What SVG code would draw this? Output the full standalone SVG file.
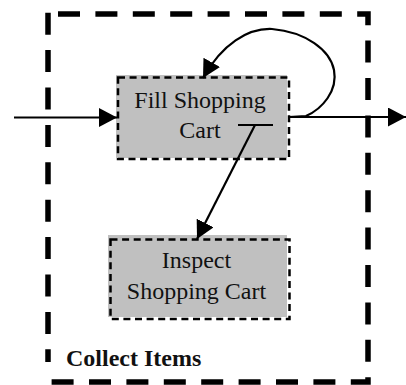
<svg xmlns="http://www.w3.org/2000/svg" width="406" height="385" viewBox="0 0 406 385">
  <style>
    .frame { fill: none; stroke: #000; stroke-width: 5.5; stroke-dasharray: 22 15.4; stroke-linejoin: miter; }
    .box { fill: #c0c0c0; }
    .border { fill: none; stroke: #000; stroke-width: 2.5; stroke-dasharray: 7 4.6; }
    .label { font-family: "Liberation Serif", "Times New Roman", serif; font-size: 24px; fill: #111; text-anchor: middle; }
    .title { font-family: "Liberation Serif", "Times New Roman", serif; font-size: 24px; font-weight: bold; fill: #111; }
    .flow { fill: none; stroke: #000; stroke-width: 2.2; }
  </style>
  <defs>
    <marker id="arrow" markerUnits="userSpaceOnUse" markerWidth="20" markerHeight="20" refX="18" refY="9.5" orient="auto" viewBox="0 0 20 20">
      <path d="M0,0 L18,9.5 L0,19 z" fill="#000"/>
    </marker>
  </defs>

  <!-- Collect Items activity frame -->
  <g id="collect-items">
    <path class="frame" d="M48,14 L368,14 L368,382 L48,382" stroke-dashoffset="27.4"/>
    <path class="frame" d="M48,12.7 L48,362"/>
    <text class="title" x="66" y="366">Collect Items</text>
  </g>

  <!-- Fill Shopping Cart -->
  <g id="fill-shopping-cart">
    <rect class="box" x="116" y="75" width="171" height="83"/>
    <rect class="border" x="118" y="77.5" width="171" height="81.5"/>
    <text class="label" x="200" y="108">Fill Shopping</text>
    <text class="label" x="200" y="138">Cart</text>
  </g>

  <!-- Inspect Shopping Cart -->
  <g id="inspect-shopping-cart">
    <rect class="box" x="108" y="235" width="179" height="82"/>
    <rect class="border" x="110.5" y="239.5" width="179" height="79.5"/>
    <text class="label" x="196.5" y="267.5">Inspect</text>
    <text class="label" x="196.5" y="299">Shopping Cart</text>
  </g>

  <!-- Connectors -->
  <g id="connectors">
    <path class="flow" d="M14,117.5 L117,117.5" marker-end="url(#arrow)"/>
    <path class="flow" d="M289,117 L406,117" marker-end="url(#arrow)"/>
    <path class="flow" d="M289,117 L306,116 C322,109 338,91 334,70 C330,50 306,32 272,29 C248,28 222,44 203,78" marker-end="url(#arrow)"/>
    <path class="flow" d="M238,125 L273,125"/>
    <path class="flow" d="M255,125 L197,239" marker-end="url(#arrow)"/>
  </g>
</svg>
